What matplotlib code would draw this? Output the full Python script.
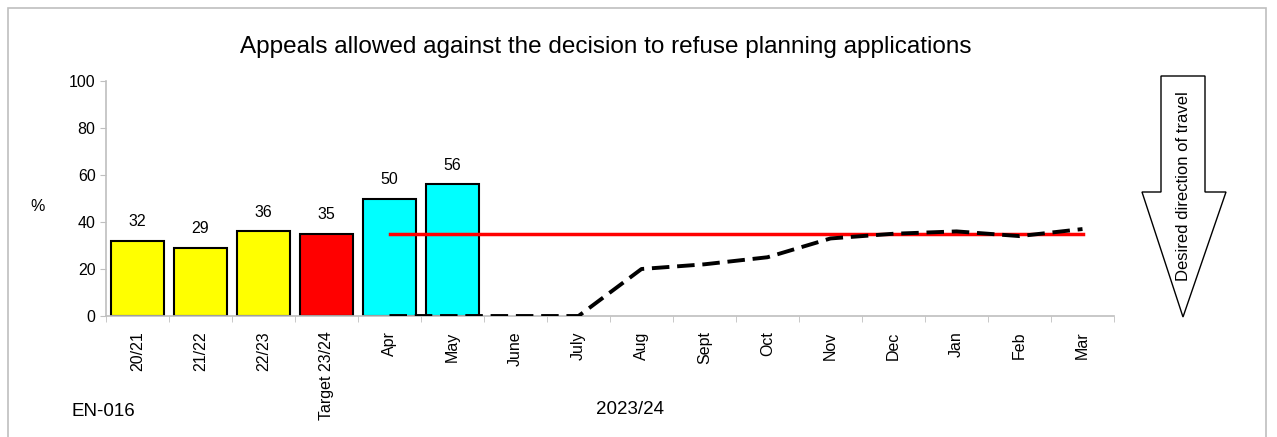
import matplotlib
matplotlib.use("Agg")
import matplotlib.pyplot as plt
from matplotlib.patches import Polygon, Rectangle
import numpy as np

plt.rcParams['font.family'] = ['Liberation Sans', 'DejaVu Sans']

categories = ["20/21", "21/22", "22/23", "Target 23/24", "Apr", "May", "June", "July",
              "Aug", "Sept", "Oct", "Nov", "Dec", "Jan", "Feb", "Mar"]
bar_values = [32, 29, 36, 35, 50, 56]
bar_colors = ["#FFFF00", "#FFFF00", "#FFFF00", "#FF0000", "#00FFFF", "#00FFFF"]
cumulative = [0, 0, 0, 0, 20, 22, 25, 33, 35, 36, 34, 37]   # Apr..Mar
target = [35] * 12                                           # Apr..Mar

fig = plt.figure(figsize=(12.77, 4.37), dpi=100)
fig.patches.append(Rectangle((8/1277, -0.1), 1258/1277, 1.1 - 8/437, transform=fig.transFigure,
                             fill=False, edgecolor="#BFBFBF", linewidth=1.2))

ax = fig.add_axes([106/1277, 1 - 316/437, 1008/1277, 235/437])
x = np.arange(len(categories))
ax.bar(x[:len(bar_values)], bar_values, width=0.84, color=bar_colors,
       edgecolor="black", linewidth=1.5, zorder=2)
for xi, v in zip(x, bar_values):
    ax.text(xi, v + 5, f"{v}", ha="center", va="bottom", fontsize=11.5)

xm = x[4:]
ax.plot(xm, target, color="#FF0000", linewidth=2.5, zorder=3)
ax.plot(xm, cumulative, color="black", linewidth=2.8, linestyle=(0, (4.5, 2)), zorder=4)

ax.set_xlim(-0.5, len(categories) - 0.5)
ax.set_ylim(0, 100)
ax.set_yticks([0, 20, 40, 60, 80, 100])
ax.set_xticks(x)
ax.set_xticklabels(categories, rotation=90, fontsize=11.5)
ax.set_xticks(np.arange(-0.5, len(categories), 1), minor=True)
ax.tick_params(axis="x", which="major", length=0, pad=11)
ax.tick_params(axis="x", which="minor", length=4, color="#BFBFBF")
ax.tick_params(axis="y", length=4, color="#BFBFBF", labelsize=11.5)
for s in ["top", "right"]:
    ax.spines[s].set_visible(False)
for s in ["left", "bottom"]:
    ax.spines[s].set_color("#BFBFBF")
    ax.spines[s].set_linewidth(1.2)
ax.set_facecolor("none")

fig.text(606/1277, 1 - 47/437, "Appeals allowed against the decision to refuse planning applications",
         ha="center", va="center", fontsize=17.5)
fig.text(38/1277, 1 - 207/437, "%", ha="center", va="center", fontsize=11.5)
fig.text(103/1277, 1 - 411/437, "EN-016", ha="center", va="center", fontsize=13.5)
fig.text(630/1277, 1 - 409/437, "2023/24", ha="center", va="center", fontsize=13.5)

arrow_pts = [(1161, 76), (1205, 76), (1205, 192), (1226, 192), (1183, 317),
             (1142, 192), (1161, 192)]
arrow = Polygon([(px/1277, 1 - py/437) for px, py in arrow_pts], closed=True,
                transform=fig.transFigure, facecolor="white", edgecolor="black", linewidth=1)
fig.patches.append(arrow)
fig.text(1183/1277, 1 - 186/437, "Desired direction of travel", rotation=90,
         ha="center", va="center", fontsize=12)

fig.savefig("out.png", dpi=100)
